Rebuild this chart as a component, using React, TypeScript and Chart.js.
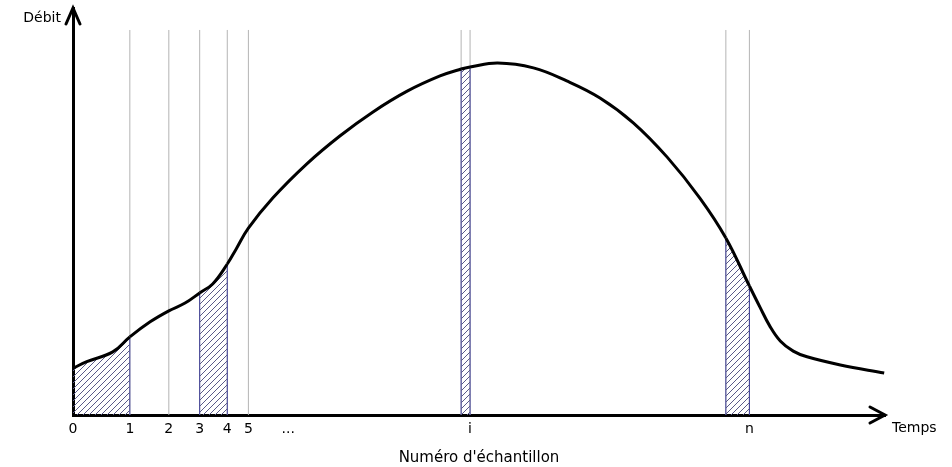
import { useEffect, useRef } from 'react';
import { Chart, registerables } from 'chart.js';

Chart.register(...registerables);

// Sample positions on the time axis (0..100 units) and their labels
const sampleTicks = [0, 7.0, 11.8, 15.6, 19.0, 21.6, 26.5, 48.9, 83.3];
const sampleLabels = ['0', '1', '2', '3', '4', '5', '...', 'i', 'n'];

// Thin grey sampling lines
const gridLinesX = [7.0, 11.8, 15.6, 19.0, 21.6, 47.8, 48.9, 80.4, 83.3];
const gridTop = 94.6;

// Hatched intervals
const stripStart = [0, 15.6, 47.8, 80.4];
const stripEnd = [7.0, 19.0, 48.9, 83.3];

// Flow curve (Débit vs Temps)
const curveX = [0, 1.7, 4.9, 7.0, 9.5, 11.8, 13.8, 15.6, 17.2, 19.0, 20.1, 21.6, 24.6, 28.8, 32.9, 36.9, 41.1, 45.2, 47.8, 48.9, 52.3, 56.7, 60.8, 64.9, 69.0, 73.2, 77.2, 80.4, 83.3, 84.6, 85.8, 87.1, 88.7, 90.4, 94.5, 99.9];
const curveY = [11.5, 13.1, 15.5, 19.2, 22.9, 25.6, 27.5, 30.0, 32.2, 37.1, 40.8, 45.9, 53.3, 61.7, 68.6, 74.4, 79.5, 83.3, 85.0, 85.5, 86.5, 85.3, 82.1, 77.9, 71.8, 63.3, 53.3, 43.5, 31.7, 26.5, 21.9, 18.2, 15.7, 14.3, 12.3, 10.3];

const FONT = 'DejaVu Sans';

function makeHatch(): CanvasPattern | string {
  const c = document.createElement('canvas');
  c.width = 6;
  c.height = 6;
  const g = c.getContext('2d');
  if (!g) return '#666';
  g.strokeStyle = '#5a5a88';
  g.lineWidth = 1;
  g.beginPath();
  g.moveTo(0, 6); g.lineTo(6, 0);
  g.moveTo(-1, 1); g.lineTo(1, -1);
  g.moveTo(5, 7); g.lineTo(7, 5);
  g.stroke();
  return g.createPattern(c, 'repeat') || '#666';
}

const arrowsPlugin = {
  id: 'arrows',
  afterDraw(chart: any) {
    const { ctx, chartArea } = chart;
    const { left, top, right, bottom } = chartArea;
    ctx.save();
    ctx.strokeStyle = '#000';
    ctx.lineWidth = 3;
    ctx.lineCap = 'round';
    ctx.lineJoin = 'miter';
    ctx.beginPath();
    ctx.moveTo(left - 7, top + 16);
    ctx.lineTo(left, top);
    ctx.lineTo(left + 7, top + 16);
    ctx.stroke();
    ctx.beginPath();
    ctx.moveTo(right - 15, bottom - 8);
    ctx.lineTo(right, bottom);
    ctx.lineTo(right - 15, bottom + 8);
    ctx.stroke();
    ctx.fillStyle = '#000';
    ctx.font = `14px "${FONT}"`;
    ctx.textBaseline = 'middle';
    ctx.textAlign = 'right';
    ctx.fillText('Débit', left - 12, top + 10);
    ctx.textAlign = 'left';
    ctx.fillText('Temps', right + 7, bottom + 13);
    ctx.restore();
  },
};

export default function App() {
  const ref = useRef<HTMLCanvasElement | null>(null);

  useEffect(() => {
    if (!ref.current) return;
    const hatch = makeHatch();
    const inStrip = (a: number, b: number) =>
      stripStart.some((s, k) => a >= s - 1e-6 && b <= stripEnd[k] + 1e-6);

    const curvePts = curveX.map((x, i) => ({ x, y: curveY[i] }));

    const datasets: any[] = [];
    datasets.push({
      data: curvePts,
      borderColor: '#000',
      borderWidth: 3,
      pointRadius: 0,
      tension: 0.4,
      fill: 'origin',
      backgroundColor: 'rgba(0,0,0,0)',
      segment: {
        backgroundColor: (c: any) =>
          inStrip(curveX[c.p0DataIndex], curveX[c.p1DataIndex]) ? hatch : 'rgba(0,0,0,0)',
      },
      order: 0,
    });

    const edges = [...stripStart, ...stripEnd].filter((e) => e > 0);
    edges.forEach((e) => {
      const idx = curveX.indexOf(e);
      datasets.push({
        data: [{ x: e, y: 0 }, { x: e, y: curveY[idx] }],
        borderColor: '#3c3c96',
        borderWidth: 1,
        pointRadius: 0,
        fill: false,
        order: 1,
      });
    });

    gridLinesX.forEach((g) => {
      datasets.push({
        data: [{ x: g, y: 0 }, { x: g, y: gridTop }],
        borderColor: '#b4b4b4',
        borderWidth: 1,
        pointRadius: 0,
        fill: false,
        order: 3,
      });
    });

    const chart = new Chart(ref.current, {
      type: 'line',
      data: { datasets },
      plugins: [arrowsPlugin],
      options: {
        animation: false,
        responsive: false,
        events: [],
        layout: { padding: { left: 0, right: 67, top: 8, bottom: 0 } },
        plugins: { legend: { display: false }, tooltip: { enabled: false } },
        scales: {
          x: {
            type: 'linear',
            min: 0,
            max: 100,
            afterFit: (s: any) => { s.height = 52; },
            afterBuildTicks: (s: any) => { s.ticks = sampleTicks.map((v) => ({ value: v })); },
            grid: { display: false, drawTicks: false, lineWidth: 1 },
            border: { display: true, color: '#000', width: 3 },
            ticks: {
              autoSkip: false,
              maxRotation: 0,
              padding: 6,
              color: '#000',
              font: { family: FONT, size: 14 },
              callback: (_v: any, i: number) => sampleLabels[i],
            },
            title: {
              display: true,
              text: "Numéro d'échantillon",
              color: '#000',
              font: { family: FONT, size: 15 },
              padding: { top: 0, bottom: 0 },
            },
          },
          y: {
            type: 'linear',
            min: 0,
            max: 100,
            afterFit: (s: any) => { s.width = 73; },
            grid: { display: false, drawTicks: false, lineWidth: 1 },
            border: { display: true, color: '#000', width: 3 },
            ticks: { display: false },
          },
        },
      },
    });
    return () => chart.destroy();
  }, []);

  return (
    <div style={{ position: 'fixed', left: 0, top: 0, width: 952, height: 467, background: '#fff' }}>
      <canvas ref={ref} width={952} height={467} style={{ display: 'block' }} />
    </div>
  );
}
